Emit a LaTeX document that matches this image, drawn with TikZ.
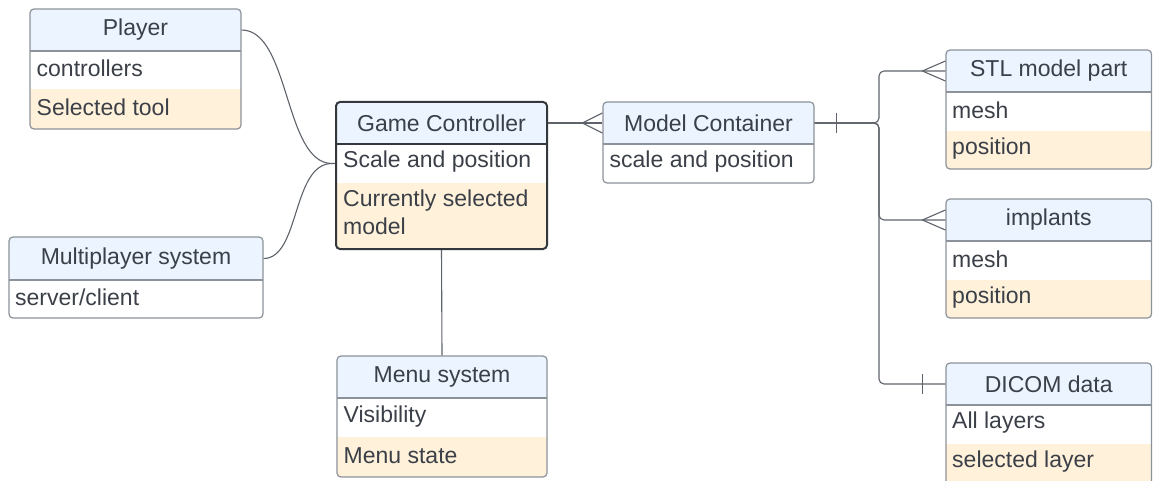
\documentclass[tikz,border=0pt]{standalone}
\usepackage{fontspec}
\setmainfont{Liberation Sans}
\usetikzlibrary{fit,calc}
\definecolor{txt}{HTML}{3B4048}
\definecolor{bord}{HTML}{8C929A}
\definecolor{hdr}{HTML}{EBF4FF}
\definecolor{alt}{HTML}{FFF1DA}
\definecolor{dark}{HTML}{34383D}
\definecolor{lin}{HTML}{5E636B}
\tikzset{
  entbox/.style={draw=bord, line width=1.2pt, rounded corners=4pt, inner sep=0pt},
  strongbox/.style={draw=dark, line width=2pt},
  sepline/.style={draw=bord, line width=1.2pt},
  hdrtext/.style={text=txt, font=\fontsize{23}{28}\selectfont, inner sep=0pt},
  rowtext/.style={text=txt, font=\fontsize{23}{28}\selectfont, inner sep=0pt, anchor=west, align=left, yshift=1.5pt},
  conn/.style={draw=lin, line width=1.1pt},
}
% #1 name, #2 L, #3 T, #4 R, #5 header bottom, #6 orange top, #7 bottom, #8 header text, #9 extra style
\newcommand\erent[9]{%
  \begin{scope}
    \clip[rounded corners=4pt] (#2,#3) rectangle (#4,#7);
    \fill[hdr] (#2,#3) rectangle (#4,#5);
    \fill[alt] (#2,#6) rectangle (#4,#7);
  \end{scope}
  \draw[sepline,#9] (#2,#5) -- (#4,#5);
  \node[entbox, fit={(#2,#3) (#4,#7)}, #9] (#1) {};
  \node[hdrtext] (#1-h) at ({(#2+#4)/2},{(#3+#5)/2}) {#8};
}
\begin{document}
\begin{tikzpicture}[x=1pt,y=-1pt]
\useasboundingbox (0,0) rectangle (1153,481);
\fill[white] (0,0) rectangle (1153,481);

% entities
\erent{player}{30}{9}{241}{51}{89}{129}{Player}{}
\node[rowtext] (player-r1) at (36.5,70) {controllers};
\node[rowtext] (player-r2) at (36.5,109) {Selected tool};

\erent{gc}{336}{102}{547}{144}{183}{249}{Game Controller}{strongbox}
\node[rowtext] (gc-r1) at (343,163.5) {Scale and position};
\node[rowtext] (gc-r2) at (343,214) {Currently selected\\model};

\erent{mc}{603}{102}{814}{144}{183}{183}{Model Container}{}
\node[rowtext] (mc-r1) at (609.5,163.5) {scale and position};

\erent{mp}{9}{237}{263}{280}{318}{318}{Multiplayer system}{}
\node[rowtext] (mp-r1) at (15,299) {server/client};

\erent{menu}{337}{356}{547}{398}{437}{477}{Menu system}{}
\node[rowtext] (menu-r1) at (343.5,418) {Visibility};
\node[rowtext] (menu-r2) at (343.5,457) {Menu state};

\erent{stl}{946}{50}{1151.5}{92}{131}{169}{STL model part}{}
\node[rowtext] (stl-r1) at (952,111.5) {mesh};
\node[rowtext] (stl-r2) at (952,150) {position};

\erent{imp}{946}{199}{1151.5}{241}{280}{318}{implants}{}
\node[rowtext] (imp-r1) at (952,260.5) {mesh};
\node[rowtext] (imp-r2) at (952,299) {position};

\erent{dicom}{946}{363}{1151.5}{405}{444}{490}{DICOM data}{}
\node[rowtext] (dicom-r1) at (952,424.5) {All layers};
\node[rowtext] (dicom-r2) at (952,463.5) {selected layer};

% connectors
\coordinate (join) at (332,163.5);
\draw[conn] (player-h -| player.east) .. controls (290,30) and (284,163.5) .. (join) -- (gc.west |- join);
\draw[conn] (mp-h -| mp.east) .. controls (300,258.5) and (292,163.5) .. (join);

\draw[conn] (gc.south) -- (menu.north);

% game controller -> model container (many)
\draw[conn] (gc-h -| gc.east) coordinate (gcr) -- (mc-h -| mc.west) coordinate (mcl);
\draw[conn] ($(mcl)+(-20,0)$) -- ($(mcl)+(0,-10)$);
\draw[conn] ($(mcl)+(-20,0)$) -- ($(mcl)+(0,10)$);

% model container bus
\coordinate (busx) at (879,0);
\coordinate (mcr) at (mc-h -| mc.east);
\draw[conn] ($(mcr)+(22,-10)$) -- ($(mcr)+(22,10)$);
\draw[conn, rounded corners=5pt] (mcr) -- (mcr -| busx) |- (stl-h -| stl.west) coordinate (stll);
\draw[conn, rounded corners=5pt] (mcr) -- (mcr -| busx) |- (imp-h -| imp.west) coordinate (impl);
\draw[conn, rounded corners=5pt] (mcr) -- (mcr -| busx) |- (dicom-h -| dicom.west) coordinate (dicl);

\draw[conn] ($(stll)+(-23,0)$) -- ($(stll)+(0,-10)$);
\draw[conn] ($(stll)+(-23,0)$) -- ($(stll)+(0,10)$);
\draw[conn] ($(impl)+(-23,0)$) -- ($(impl)+(0,-10)$);
\draw[conn] ($(impl)+(-23,0)$) -- ($(impl)+(0,10)$);
\draw[conn] ($(dicl)+(-23,-10)$) -- ($(dicl)+(-23,10)$);
\end{tikzpicture}
\end{document}
